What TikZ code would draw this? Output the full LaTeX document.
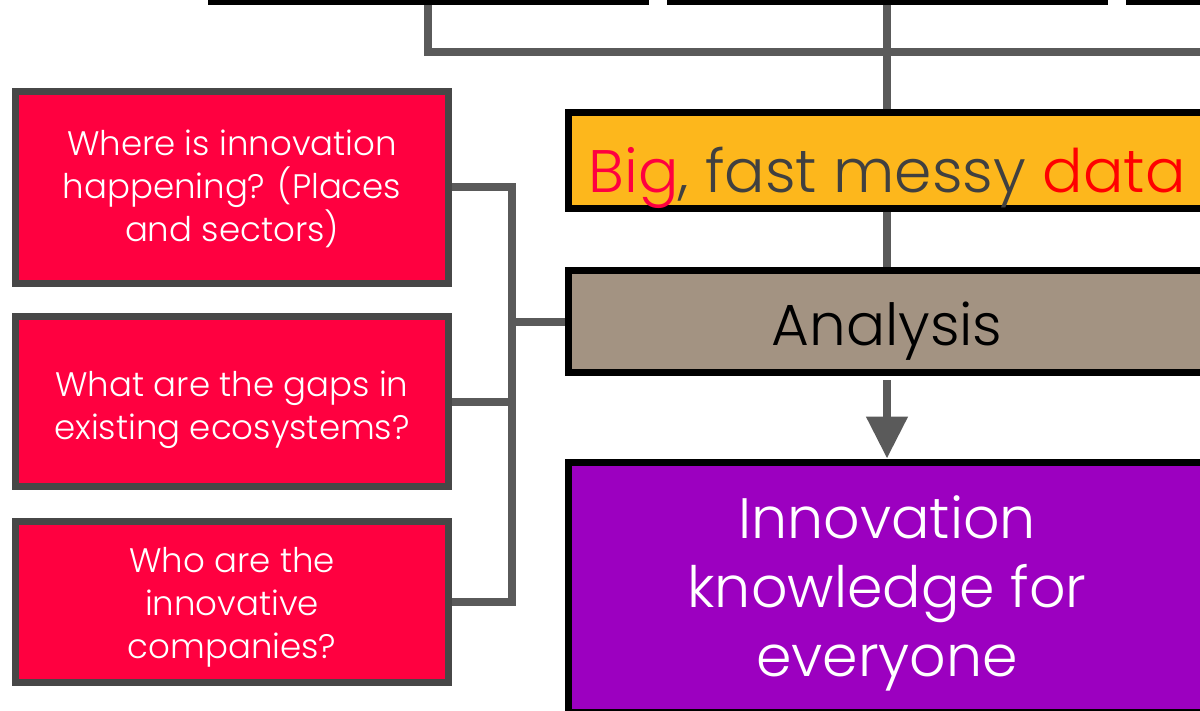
\documentclass[tikz,border=0pt]{standalone}
\usepackage{fontspec}
\setmainfont{Poppins Light}
\usepackage{tikz}
\usetikzlibrary{positioning,arrows.meta}

\definecolor{qred}{HTML}{FF0040}
\definecolor{qgrey}{HTML}{474747}
\definecolor{wire}{HTML}{5A5A5A}
\definecolor{amber}{HTML}{FDB71C}
\definecolor{taupe}{HTML}{A39382}
\definecolor{violet}{HTML}{9C00C0}
\definecolor{ink}{HTML}{404040}

\begin{document}
\begin{tikzpicture}[
		x=0.5pt, y=-0.5pt
		,every node/.append style={rectangle, align=center, inner sep=0pt, text depth=0pt}
		,q/.style={fill=qred, draw=qgrey, line width=3.5pt, text=white, minimum width=216.5pt, font=\fontsize{17}{21.5}\selectfont}
		,box/.style={draw=black, line width=3.5pt, minimum width=319pt}
		,src/.style={draw=black, fill=white, line width=3pt, minimum width=217.5pt, minimum height=52pt}
		,wire/.style={draw=wire, line width=4pt}
	]
		\useasboundingbox (0,0) rectangle (1200,711);
		\clip (0,0) rectangle (1200,711);

		% sources at the top
		\node [src] (s1) at (428,-50) {};
		\node [src] (s2) at (887,-50) {};
		\node [src] (s3) at (1346,-50) {};

		% questions
		\node [q, minimum height=96pt, text height=54.5pt] (q1) at (232,187.5) {Where is innovation\\happening? (Places\\and sectors)};
		\node [q, minimum height=85pt, text height=37.5pt] (q2) at (232,401.5) {What are the gaps in\\existing ecosystems?};
		\node [q, minimum height=80.5pt, text height=56pt] (q3) at (232,602) {Who are the\\innovative\\companies?};

		% main column
		\node [box, fill=amber, minimum height=48pt, text height=32pt, font=\fontsize{30}{34}\selectfont] (data) at (887,161)
			{\textcolor{qred}{Big}\textcolor{ink}{, fast messy }\textcolor{red}{data}};
		\node [box, fill=taupe, minimum height=51pt, text height=23pt, font=\fontsize{29}{34}\selectfont] (ana) at (887,322) {Analysis};
		\node [box, fill=violet, text=white, minimum height=125pt, text height=89pt, font=\fontsize{28.5}{34.5}\selectfont] (know) at (887,587)
			{Innovation\\knowledge for\\everyone};

		\coordinate (hub) at (887,52);
		\coordinate (bus) at (512,324);

		\draw [wire] (s1.south) |- (s3.south |- hub) -- (s3.south);
		\draw [wire] (s2.south) -- (data.north);
		\draw [wire] (data.south) -- (ana.north);
		\draw [wire, -{Triangle[width=20pt,length=21pt]}, shorten <=2pt] (ana.south) -- (know.north);

		\draw [wire] (q1.east) -| (bus) |- (q3.east);
		\draw [wire] (q2.east) -- (q2.east -| bus);
		\draw [wire] (ana.west -| bus) -- (ana.west);
	\end{tikzpicture}
\end{document}
